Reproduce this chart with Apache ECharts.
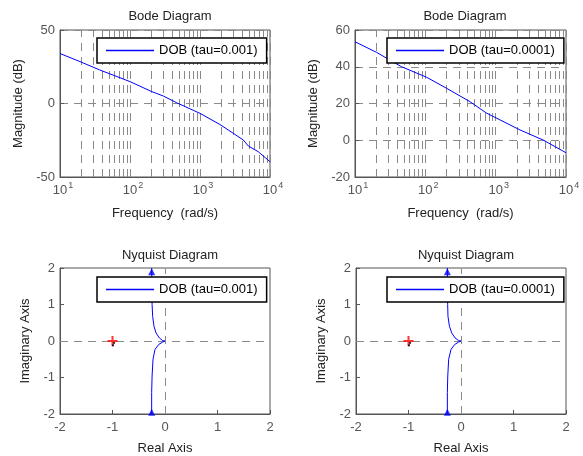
<!DOCTYPE html>
<html>
<head>
<meta charset="utf-8">
<script src="https://cdn.jsdelivr.net/npm/echarts@6/dist/echarts.min.js"></script>
<style>html,body{margin:0;padding:0;background:#fff}#c{width:583px;height:456px}</style>
</head>
<body>
<div id="c"></div>
<script>
// ---- data ----
const bodeFreq1 = [10, 19.3, 37, 100, 204, 299, 464, 1000, 1930, 2990, 4150, 4900, 6800, 10000];
const bodeMag1  = [34, 28.5, 22.8, 14.9, 8.1, 5.1, 0.5, -6.7, -14.3, -20.3, -24.8, -28.9, -32.8, -39.6];
const bodeFreq2 = [10, 20.3, 31.5, 46, 104, 200, 431, 747, 2220, 4750, 10000];
const bodeMag2  = [53.6, 47.8, 43.6, 40, 34.3, 28.3, 21, 14.7, 5.6, 0.1, -6.8];
const nyqRe1 = [-0.254, -0.25, -0.246, -0.235, -0.21, -0.171, -0.108, -0.044, 0, -0.044, -0.12, -0.19, -0.228, -0.246, -0.254, -0.254];
const nyqIm1 = [2, 1.5, 1.0, 0.675, 0.404, 0.222, 0.086, 0.01, 0, -0.03, -0.095, -0.23, -0.5, -0.96, -1.41, -2];
const nyqRe2 = [-0.26, -0.258, -0.254, -0.248, -0.22, -0.177, -0.114, -0.045, 0, -0.045, -0.12, -0.19, -0.235, -0.252, -0.26, -0.26];
const nyqIm2 = [2, 1.5, 1.0, 0.675, 0.404, 0.222, 0.086, 0.01, 0, -0.03, -0.095, -0.23, -0.5, -0.96, -1.41, -2];
const arrowRe1 = [-0.254, -0.254], arrowIm1 = [1.9, -1.95];
const arrowRe2 = [-0.26, -0.26], arrowIm2 = [1.9, -1.95];
const criticalPoint = [-1, 0];
const dotRe = [-0.97, -0.99], dotIm = [-0.05, -0.12];
const decadeTicks = [10, 100, 1000, 10000];
const minorFreqs = [];
[10, 100, 1000].forEach(d => { for (let k = 2; k <= 10; k++) minorFreqs.push(d * k); });
const name1 = 'DOB (tau=0.001)', name2 = 'DOB (tau=0.0001)';

const FONT = 'Liberation Sans, Arial, sans-serif';
const TICKC = '#555';
const GRIDC = '#8a8a8a';
const BLUE = '#0000ff';

function zip(a, b) { return a.map((v, i) => [v, b[i]]); }

const grids = [
  {left: 60, top: 30, width: 210, height: 147},
  {left: 355, top: 30, width: 211, height: 147},
  {left: 60, top: 268, width: 210, height: 147},
  {left: 356, top: 268, width: 210, height: 147}
].map(g => Object.assign(g, {show: true, borderColor: '#555', borderWidth: 1, backgroundColor: '#fff'}));

const axisLineS = {show: true, onZero: false, lineStyle: {color: '#555', width: 1}};
const tickS = {show: true, inside: true, length: 4, lineStyle: {color: '#555'}};
const labelS = {color: TICKC, fontSize: 13, fontFamily: FONT};
const nameS = {color: '#222', fontSize: 13, fontFamily: FONT};
const dashS = {color: GRIDC, type: [8, 6], width: 1};

function logX(gi) {
  return {
    type: 'log', logBase: 10, gridIndex: gi, min: 10, max: 10000,
    name: 'Frequency  (rad/s)', nameLocation: 'middle', nameGap: 30, nameTextStyle: nameS,
    axisLine: axisLineS, axisTick: tickS, splitLine: {show: false},
    axisLabel: {
      margin: 4, fontFamily: FONT,
      formatter: v => '{a|10}{b|' + Math.round(Math.log10(v)) + '}',
      rich: {a: {fontSize: 13, color: TICKC, fontFamily: FONT, padding: [0, 0, 0, 6]},
             b: {fontSize: 9, color: TICKC, fontFamily: FONT, padding: [0, 0, 9, 1]}}
    }
  };
}
function magY(gi, min, max, interval) {
  return {
    type: 'value', gridIndex: gi, min, max, interval,
    name: 'Magnitude (dB)', nameLocation: 'middle', nameGap: 35, nameTextStyle: nameS,
    axisLine: axisLineS, axisTick: tickS, axisLabel: Object.assign({margin: 5}, labelS),
    splitLine: {show: true, lineStyle: dashS}
  };
}
function nyX(gi) {
  return {
    type: 'value', gridIndex: gi, min: -2, max: 2, interval: 1,
    name: 'Real Axis', nameLocation: 'middle', nameGap: 28, nameTextStyle: nameS,
    axisLine: axisLineS, axisTick: tickS, axisLabel: Object.assign({margin: 7}, labelS),
    splitLine: {show: false}
  };
}
function nyY(gi) {
  return {
    type: 'value', gridIndex: gi, min: -2, max: 2, interval: 1,
    name: 'Imaginary Axis', nameLocation: 'middle', nameGap: 28, nameTextStyle: nameS,
    axisLine: axisLineS, axisTick: tickS, axisLabel: Object.assign({margin: 5}, labelS),
    splitLine: {show: false}
  };
}

const minorMark = {
  silent: true, symbol: 'none', label: {show: false}, animation: false,
  lineStyle: dashS, data: minorFreqs.map(f => ({xAxis: f}))
};
const zeroMark = {
  silent: true, symbol: 'none', label: {show: false}, animation: false,
  lineStyle: dashS, data: [{xAxis: 0}, {yAxis: 0}]
};

function bodeSeries(gi, name, fx, my) {
  return {type: 'line', name, xAxisIndex: gi, yAxisIndex: gi, data: zip(fx, my),
    showSymbol: false, symbol: 'none', lineStyle: {color: BLUE, width: 1}, itemStyle: {color: BLUE},
    animation: false, z: 5, markLine: minorMark};
}
function nySeries(gi, name, re, im) {
  return {type: 'line', name, xAxisIndex: gi, yAxisIndex: gi, data: zip(re, im),
    showSymbol: false, symbol: 'none', lineStyle: {color: BLUE, width: 1}, itemStyle: {color: BLUE},
    animation: false, z: 5, markLine: zeroMark};
}
function extras(gi, ar, ai) {
  return [
    {type: 'scatter', name: 'arrows', xAxisIndex: gi, yAxisIndex: gi, data: zip(ar, ai),
     symbol: 'triangle', symbolSize: [7, 7], itemStyle: {color: BLUE}, animation: false, z: 6},
    {type: 'scatter', name: 'crit', xAxisIndex: gi, yAxisIndex: gi, data: [criticalPoint],
     symbol: 'path://M4,0 L6,0 L6,4 L10,4 L10,6 L6,6 L6,10 L4,10 L4,6 L0,6 L0,4 L4,4 Z', symbolSize: 10,
     itemStyle: {color: '#ff0000'}, animation: false, z: 6},
    {type: 'scatter', name: 'dots', xAxisIndex: gi, yAxisIndex: gi, data: zip(dotRe, dotIm),
     symbol: 'rect', symbolSize: 2, itemStyle: {color: '#000'}, animation: false, z: 6}
  ];
}

function legendAt(left, top, name) {
  return {left, top, z: 30, data: [name], orient: 'horizontal', backgroundColor: '#fff',
    borderColor: '#000', borderWidth: 1.5, borderRadius: 0, padding: [6, 9, 6, 9],
    itemWidth: 48, itemHeight: 1.5, itemGap: 5, icon: 'rect', selectedMode: false,
    textStyle: {fontSize: 13, color: '#000', fontFamily: FONT, padding: [0, 0, 0, 0]}};
}
function titleAt(left, top, text) {
  return {text, left, top, textAlign: 'center',
    textStyle: {fontSize: 13, fontWeight: 'normal', color: '#222', fontFamily: FONT}};
}

const option = {
  backgroundColor: '#fff',
  animation: false,
  title: [titleAt(165, 5, 'Bode Diagram'), titleAt(460, 5, 'Bode Diagram'),
          titleAt(165, 244, 'Nyquist Diagram'), titleAt(461, 244, 'Nyquist Diagram')],
  legend: [legendAt(97, 38, name1), legendAt(387, 38, name2),
           legendAt(97, 277, name1), legendAt(387, 277, name2)],
  grid: grids,
  xAxis: [logX(0), logX(1), nyX(2), nyX(3)],
  yAxis: [magY(0, -50, 50, 50), magY(1, -20, 60, 20), nyY(2), nyY(3)],
  series: [
    bodeSeries(0, name1, bodeFreq1, bodeMag1),
    bodeSeries(1, name2, bodeFreq2, bodeMag2),
    nySeries(2, name1, nyqRe1, nyqIm1),
    nySeries(3, name2, nyqRe2, nyqIm2),
    ...extras(2, arrowRe1, arrowIm1),
    ...extras(3, arrowRe2, arrowIm2)
  ]
};
echarts.init(document.getElementById('c'), null, {renderer: 'canvas'}).setOption(option);
</script>
</body>
</html>
